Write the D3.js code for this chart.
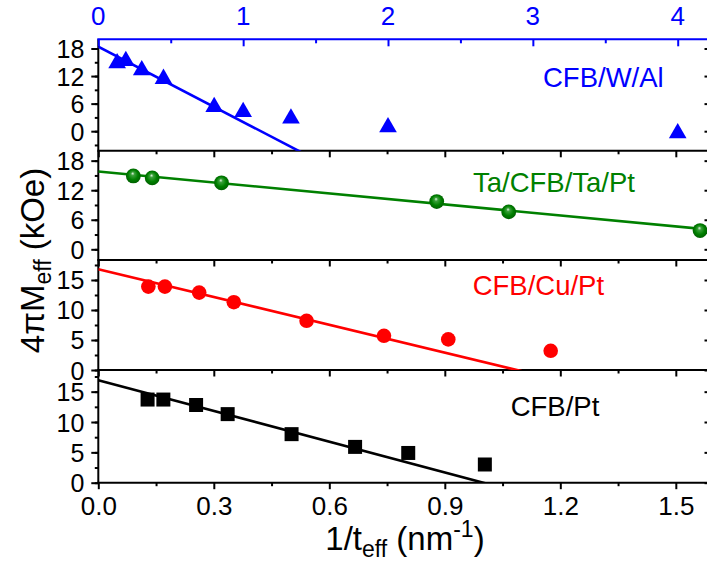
<!DOCTYPE html>
<html><head><meta charset="utf-8">
<script src="https://cdn.jsdelivr.net/npm/d3@7"></script>
<style>
body{margin:0;background:#fff}
svg{display:block}
text{font-family:"Liberation Sans",Arial,sans-serif}
</style>
</head><body>
<svg id="c" width="707" height="565"></svg>
<script>
// ---------------- DATA ----------------
const bottomTicks = [0.0, 0.3, 0.6, 0.9, 1.2, 1.5];
const bottomTickLabels = ["0.0", "0.3", "0.6", "0.9", "1.2", "1.5"];
const topTicks = [0, 1, 2, 3, 4];
const topTickLabels = ["0", "1", "2", "3", "4"];
const ticksA = [0, 6, 12, 18];      // panels 1 & 2
const ticksB = [0, 5, 10, 15];      // panels 3 & 4

// CFB/W/Al (plotted against top axis)
const wX = [0.13, 0.19, 0.30, 0.45, 0.80, 1.00, 1.33, 2.00, 4.00];
const wY = [14.8, 15.3, 13.3, 11.4, 5.3, 4.2, 2.8, 0.85, -0.45];
const wFitX = [0, 1.6];
const wFitY = [18.4, -7.84];

// Ta/CFB/Ta/Pt
const taX = [0.091, 0.140, 0.320, 0.879, 1.066, 1.563];
const taY = [14.9, 14.5, 13.5, 9.7, 7.6, 3.8];
const taFitX = [0, 1.6];
const taFitY = [15.8, 3.91];

// CFB/Cu/Pt
const cuX = [0.130, 0.173, 0.262, 0.352, 0.541, 0.742, 0.909, 1.175];
const cuY = [13.9, 13.9, 12.9, 11.3, 8.2, 5.7, 5.1, 3.2];
const cuFitX = [0, 1.15];
const cuFitY = [16.8, -0.97];

// CFB/Pt
const ptX = [0.128, 0.169, 0.254, 0.336, 0.502, 0.667, 0.805, 1.004];
const ptY = [13.7, 13.7, 12.8, 11.3, 8.0, 5.9, 4.9, 3.0];
const ptFitX = [0, 1.05];
const ptFitY = [16.9, -0.85];

const names = ["CFB/W/Al", "Ta/CFB/Ta/Pt", "CFB/Cu/Pt", "CFB/Pt"];

// ---------------- LAYOUT ----------------
const svg = d3.select("#c");
const L = 98.3, R = 709.5;
const x = d3.scaleLinear().domain([0, 1.5875]).range([L, R]);
const xTop = d3.scaleLinear().domain([0, 4.2195]).range([L, R]);
const FONT = '"Liberation Sans", Arial, sans-serif';

const defs = svg.append("defs");
const grad = defs.append("radialGradient").attr("id", "gball")
  .attr("cx", "50%").attr("cy", "50%").attr("r", "55%")
  .attr("fx", "45%").attr("fy", "32%");
grad.append("stop").attr("offset", "0%").attr("stop-color", "#e6f5e6");
grad.append("stop").attr("offset", "22%").attr("stop-color", "#3aa03a");
grad.append("stop").attr("offset", "60%").attr("stop-color", "#008000");
grad.append("stop").attr("offset", "100%").attr("stop-color", "#005a00");

const panels = [
  {top: 39.3, bottom: 150.8, dom: [-4.27, 20.0], ticks: ticksA, minor: 3},
  {top: 150.8, bottom: 260.0, dom: [-2.17, 20.0], ticks: ticksA, minor: 3},
  {top: 260.0, bottom: 370.0, dom: [0, 18.33], ticks: ticksB, minor: 2.5},
  {top: 370.0, bottom: 482.7, dom: [0, 18.57], ticks: ticksB, minor: 2.5}
];

function minorVals(dom, step) {
  const out = [];
  for (let v = Math.ceil(dom[0] / step) * step; v <= dom[1] + 1e-9; v += step) out.push(+v.toFixed(4));
  return out;
}
function styleAxis(g, color) {
  g.attr("font-family", null).attr("font-size", null);
  g.selectAll("path.domain").remove();
  g.selectAll(".tick line").attr("stroke", color).attr("stroke-width", 2);
  g.selectAll(".tick text").attr("fill", color).style("font-family", FONT);
}

const xMinor = [0.15, 0.45, 0.75, 1.05, 1.35];
const topMinor = [0.5, 1.5, 2.5, 3.5];

panels.forEach((p, i) => {
  const y = d3.scaleLinear().domain(p.dom).range([p.bottom, p.top]);
  p.y = y;
  defs.append("clipPath").attr("id", "clip" + i).append("rect")
    .attr("x", L).attr("y", p.top).attr("width", R - L).attr("height", p.bottom - p.top);

  // left axis
  const gl = svg.append("g").attr("transform", `translate(${L},0)`);
  gl.call(d3.axisLeft(y).tickValues(minorVals(p.dom, p.minor)).tickSize(3.5).tickFormat(""));
  styleAxis(gl, "#000");
  const gL = svg.append("g").attr("transform", `translate(${L},0)`);
  gL.call(d3.axisLeft(y).tickValues(p.ticks).tickSize(7).tickPadding(7).tickFormat(d3.format("d")));
  styleAxis(gL, "#000");
  gL.selectAll(".tick text").style("font-size", "25px").attr("dy", "0.36em");

  // right axis (inward ticks)
  const gr = svg.append("g").attr("transform", `translate(${R},0)`);
  gr.call(d3.axisLeft(y).tickValues(p.ticks).tickSize(5).tickFormat(""));
  styleAxis(gr, "#000");

  // bottom axis
  const gb = svg.append("g").attr("transform", `translate(0,${p.bottom})`);
  gb.call(d3.axisBottom(x).tickValues(xMinor).tickSize(3.5).tickFormat(""));
  styleAxis(gb, "#000");
  const gB = svg.append("g").attr("transform", `translate(0,${p.bottom})`);
  gB.call(d3.axisBottom(x).tickValues(bottomTicks).tickSize(6.5).tickPadding(7)
    .tickFormat((d, k) => i === 3 ? bottomTickLabels[k] : ""));
  styleAxis(gB, "#000");
  gB.selectAll(".tick text").style("font-size", "26px");

  // frame
  svg.append("line").attr("x1", L).attr("x2", L).attr("y1", p.top).attr("y2", p.bottom)
    .attr("stroke", "#000").attr("stroke-width", 2);
  svg.append("line").attr("x1", R).attr("x2", R).attr("y1", p.top).attr("y2", p.bottom)
    .attr("stroke", "#000").attr("stroke-width", 2);
  svg.append("line").attr("x1", L - 1).attr("x2", R).attr("y1", p.bottom).attr("y2", p.bottom)
    .attr("stroke", "#000").attr("stroke-width", 2);
});

// top blue axis
const gt = svg.append("g").attr("transform", `translate(0,${panels[0].top})`);
gt.call(d3.axisBottom(xTop).tickValues(topMinor).tickSize(4).tickFormat(""));
styleAxis(gt, "#0000ff");
const gT = svg.append("g").attr("transform", `translate(0,${panels[0].top})`);
gT.call(d3.axisBottom(xTop).tickValues(topTicks).tickSize(7).tickFormat(""));
styleAxis(gT, "#0000ff");
svg.selectAll(null).data(topTicks).enter().append("text")
  .attr("x", d => xTop(d)).attr("y", 25).attr("text-anchor", "middle")
  .attr("fill", "#0000ff").style("font-size", "26px").text((d, k) => topTickLabels[k]);
svg.append("line").attr("x1", L - 1).attr("x2", R).attr("y1", panels[0].top).attr("y2", panels[0].top)
  .attr("stroke", "#0000ff").attr("stroke-width", 2);

// ---------------- SERIES ----------------
const line = (xs, ys, sx, sy) => d3.line().x(d => sx(d[0])).y(d => sy(d[1]))(xs.map((v, k) => [v, ys[k]]));

function fit(i, xs, ys, sx, color) {
  svg.append("path").attr("d", line(xs, ys, sx, panels[i].y))
    .attr("clip-path", `url(#clip${i})`)
    .attr("fill", "none").attr("stroke", color).attr("stroke-width", 2.6);
}
fit(0, wFitX, wFitY, xTop, "#0000ff");
fit(1, taFitX, taFitY, x, "#008000");
fit(2, cuFitX, cuFitY, x, "#ff0000");
fit(3, ptFitX, ptFitY, x, "#000000");

// triangles
svg.selectAll(null).data(wX).enter().append("path")
  .attr("d", d3.symbol(d3.symbolTriangle, 135)())
  .attr("transform", (d, k) => `translate(${xTop(d)},${panels[0].y(wY[k])})`)
  .attr("fill", "#0000ff");
// green balls
svg.selectAll(null).data(taX).enter().append("circle")
  .attr("cx", d => x(d)).attr("cy", (d, k) => panels[1].y(taY[k])).attr("r", 7.4)
  .attr("fill", "url(#gball)");
// red circles
svg.selectAll(null).data(cuX).enter().append("circle")
  .attr("cx", d => x(d)).attr("cy", (d, k) => panels[2].y(cuY[k])).attr("r", 7.3)
  .attr("fill", "#ff0000");
// black squares
svg.selectAll(null).data(ptX).enter().append("path")
  .attr("d", d3.symbol(d3.symbolSquare, 196)())
  .attr("transform", (d, k) => `translate(${x(d)},${panels[3].y(ptY[k])})`)
  .attr("fill", "#000");

// ---------------- LABELS ----------------
const labelPos = [[543, 87], [473, 191.7], [472.7, 295], [510.7, 415.7]];
const labelCol = ["#0000ff", "#008000", "#ff0000", "#000000"];
names.forEach((n, i) => {
  svg.append("text").attr("x", labelPos[i][0]).attr("y", labelPos[i][1])
    .attr("fill", labelCol[i]).style("font-size", "27.5px").text(n);
});

// y title
const yt = svg.append("text").attr("transform", "translate(44,260.5) rotate(-90)")
  .attr("text-anchor", "middle").style("font-size", "33px").attr("fill", "#000");
yt.append("tspan").text("4\u03C0M");
yt.append("tspan").attr("dy", 7).style("font-size", "23px").text("eff");
yt.append("tspan").attr("dy", -7).text(" (kOe)");

// x title
const xt = svg.append("text").attr("x", 405).attr("y", 550)
  .attr("text-anchor", "middle").style("font-size", "33px").attr("fill", "#000");
xt.append("tspan").text("1/t");
xt.append("tspan").attr("dy", 7).style("font-size", "23px").text("eff");
xt.append("tspan").attr("dy", -7).text(" (nm");
xt.append("tspan").attr("dy", -13).style("font-size", "23px").text("-1");
xt.append("tspan").attr("dy", 13).text(")");
</script>
</body></html>
